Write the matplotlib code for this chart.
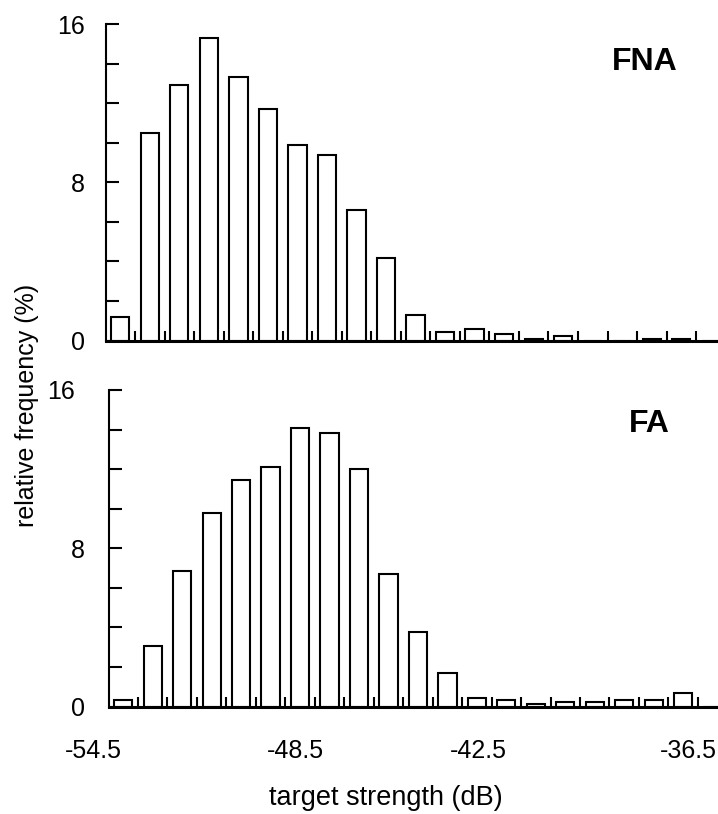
import matplotlib
matplotlib.use("Agg")
import matplotlib.pyplot as plt
import matplotlib.transforms as mtransforms
import numpy as np

plt.rcParams['font.family'] = ['Liberation Sans', 'DejaVu Sans']

# ---- data (relative frequency %, one value per target-strength bin) ----
fna_values = [1.2, 10.5, 12.9, 15.3, 13.3, 11.7, 9.9, 9.4, 6.6, 4.15, 1.3,
              0.45, 0.6, 0.35, 0.1, 0.22, 0.0, 0.0, 0.1, 0.1, 0.0]
fa_values = [0.35, 3.05, 6.85, 9.8, 11.45, 12.1, 14.1, 13.85, 12.0, 6.7, 3.75,
             1.7, 0.45, 0.35, 0.15, 0.22, 0.22, 0.35, 0.35, 0.67, 0.0]
bins = np.arange(len(fna_values))
xtick_labels = ['-54.5', '-48.5', '-42.5', '-36.5']
xtick_pos = [-1.03, 5.86, 12.04, 19.17]   # in bin units
ytick_vals = list(range(0, 17, 2))
ytick_labels = ['0', '', '', '', '8', '', '', '', '16']
panel_names = ['FNA', 'FA']

W, H = 718, 814
fig = plt.figure(figsize=(W / 100, H / 100), dpi=100)

def make_ax(left_px, top_px, bottom_px, bin_px):
    ax = fig.add_axes([left_px / W, 1 - bottom_px / H,
                       (W - left_px) / W, (bottom_px - top_px) / H])
    ax.set_xlim(-0.5, -0.5 + (W - left_px) / bin_px)
    ax.set_ylim(0, 16)
    return ax

ax1 = make_ax(105.5, 24, 340.5, 29.53)
ax2 = make_ax(108.5, 390, 706.5, 29.47)

for ax, vals, pad in [(ax1, fna_values, 14.8), (ax2, fa_values, 17)]:
    ax.bar(bins, vals, width=0.62, facecolor='white', edgecolor='black',
           linewidth=1.5, zorder=2)
    for s in ['top', 'right']:
        ax.spines[s].set_visible(False)
    ax.spines['left'].set_linewidth(1.5)
    ax.spines['bottom'].set_linewidth(2.2)
    ax.spines['left'].set_zorder(3)
    ax.spines['bottom'].set_zorder(3)
    ax.set_yticks(ytick_vals)
    ax.set_yticklabels(ytick_labels)
    ax.tick_params(axis='y', direction='in', length=9, width=1.5, pad=pad,
                   labelsize=18)
    ax.set_xticks([])
    ax.set_xticks(bins[:-1] + 0.5, minor=True)
    ax.tick_params(axis='x', which='minor', direction='in', length=7, width=1.5)
    ax.patch.set_visible(False)

# the "16" of the lower panel sits a little further left in the reference
top_tick = ax2.yaxis.get_major_ticks()[-1]
top_tick.label1.set_transform(top_tick.label1.get_transform() +
                              mtransforms.ScaledTranslation(-10 / 100, 0,
                                                            fig.dpi_scale_trans))

label_y = -(751 - 706.5) / (706.5 - 390)
for lab, pos in zip(xtick_labels, xtick_pos):
    ax2.text(pos, label_y, lab, transform=ax2.get_xaxis_transform(),
             ha='center', va='center', fontsize=18, clip_on=False)

fig.text(645 / W, 1 - 61.5 / H, panel_names[0], ha='center', va='center',
         fontsize=23, fontweight='bold')
fig.text(649 / W, 1 - 423.5 / H, panel_names[1], ha='center', va='center',
         fontsize=23, fontweight='bold')

fig.text(27 / W, 1 - 405 / H, 'relative frequency (%)', rotation=90,
         ha='center', va='center', fontsize=18)
fig.text(386 / W, 1 - 798 / H, 'target strength (dB)', ha='center',
         va='center', fontsize=19.5)

fig.savefig('out.png', dpi=100)
